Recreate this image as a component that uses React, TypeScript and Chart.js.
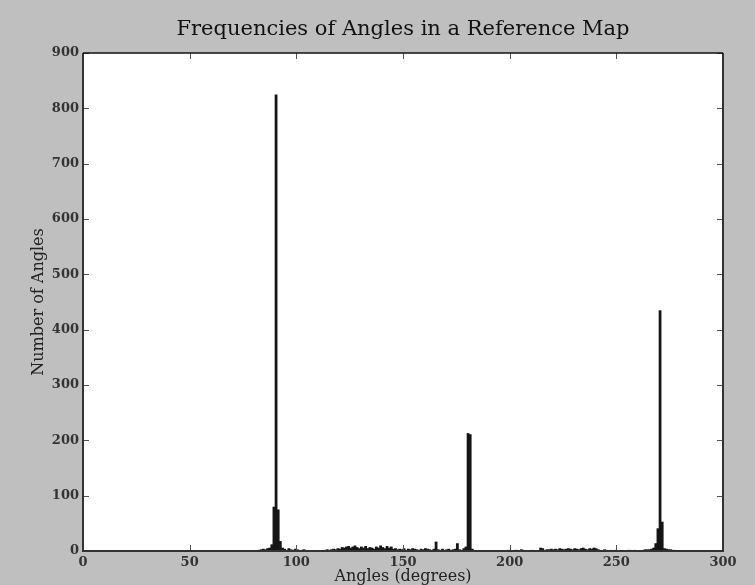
import { useEffect, useRef } from "react";
import { Chart, registerables } from "chart.js";

Chart.register(...registerables);

const TITLE = "Frequencies of Angles in a Reference Map";
const X_LABEL = "Angles (degrees)";
const Y_LABEL = "Number of Angles";

const xTicks = [0, 50, 100, 150, 200, 250, 300];
const yTicks = [0, 100, 200, 300, 400, 500, 600, 700, 800, 900];

const BIN_WIDTH = 1;

// left edge of each non-empty 1-degree bin
const angles = [
  82, 83, 84, 85, 86, 87, 88, 89, 90, 91, 92, 93, 94, 95, 96, 97, 98, 99, 100, 101, 102, 103, 104,
  113, 114, 115, 116, 117, 118, 119, 120, 121, 122, 123, 124, 125, 126, 127, 128, 129, 130,
  131, 132, 133, 134, 135, 136, 137, 138, 139, 140, 141, 142, 143, 144, 145, 146, 147, 148, 149, 150,
  151, 152, 153, 154, 155, 156, 157, 158, 159, 160, 161, 162, 163, 164, 165, 166, 167, 168, 169, 170,
  171, 172, 173, 174, 175, 176, 177, 178, 179, 180, 181, 182,
  199, 202, 203, 205, 206, 208, 210, 214, 215, 216, 217, 218, 219, 220, 221, 222, 223, 224, 225,
  226, 227, 228, 229, 230, 231, 232, 233, 234, 235, 236, 237, 238, 239, 240, 241, 242, 244, 245, 247, 249,
  252, 255, 256, 258, 260, 262, 263, 264, 265, 266, 267, 268, 269, 270, 271, 272, 273, 274, 275, 276, 277, 278,
];

const counts = [
  2, 3, 4, 3, 5, 6, 12, 80, 825, 75, 18, 6, 4, 2, 5, 3, 2, 4, 3, 1, 2, 3, 2,
  2, 3, 2, 3, 4, 3, 5, 4, 7, 6, 8, 9, 6, 8, 10, 7, 5, 8,
  6, 9, 5, 7, 6, 4, 8, 6, 10, 7, 5, 9, 6, 8, 4, 5, 3, 4, 3, 5,
  2, 4, 3, 5, 4, 3, 2, 4, 3, 5, 4, 3, 2, 4, 17, 3, 2, 4, 2, 3,
  4, 2, 3, 4, 14, 3, 2, 5, 8, 213, 211, 4,
  2, 2, 2, 3, 2, 1, 2, 6, 5, 2, 3, 3, 4, 3, 4, 3, 5, 4, 3,
  4, 5, 4, 3, 5, 4, 3, 5, 6, 4, 3, 5, 4, 6, 5, 3, 2, 3, 2, 2, 2,
  1, 2, 2, 2, 1, 2, 3, 3, 3, 4, 6, 14, 41, 435, 53, 5, 4, 3, 3, 2, 2, 1,
];

const SERIF = '"DejaVu Serif", serif';

const framePlugin = {
  id: "frame",
  beforeDraw(chart: any) {
    const { ctx, chartArea: a } = chart;
    ctx.save();
    ctx.fillStyle = "#bfbfbf";
    ctx.fillRect(0, 0, chart.width, chart.height);
    ctx.fillStyle = "#ffffff";
    ctx.fillRect(a.left, a.top, a.right - a.left, a.bottom - a.top);
    ctx.restore();
  },
  afterDraw(chart: any) {
    const { ctx, chartArea: a, scales } = chart;
    const xs = scales.x;
    const ys = scales.y;
    ctx.save();
    // inward ticks
    ctx.strokeStyle = "#555";
    ctx.lineWidth = 1;
    const len = 6;
    ctx.beginPath();
    xTicks.forEach((v) => {
      const px = Math.round(xs.getPixelForValue(v)) + 0.5;
      ctx.moveTo(px, a.bottom);
      ctx.lineTo(px, a.bottom - len);
      ctx.moveTo(px, a.top);
      ctx.lineTo(px, a.top + len);
    });
    yTicks.forEach((v) => {
      const py = Math.round(ys.getPixelForValue(v)) + 0.5;
      ctx.moveTo(a.left, py);
      ctx.lineTo(a.left + len, py);
      ctx.moveTo(a.right, py);
      ctx.lineTo(a.right - len, py);
    });
    ctx.stroke();
    // frame
    ctx.strokeStyle = "#333";
    ctx.lineWidth = 2;
    ctx.beginPath();
    ctx.moveTo(a.left, a.top);
    ctx.lineTo(a.left, a.bottom);
    ctx.lineTo(a.right, a.bottom);
    ctx.lineTo(a.right, a.top);
    ctx.stroke();
    ctx.strokeStyle = "#111";
    ctx.lineWidth = 1.5;
    ctx.beginPath();
    ctx.moveTo(a.left, a.top);
    ctx.lineTo(a.right, a.top);
    ctx.stroke();
    // texts
    ctx.fillStyle = "#111";
    ctx.textAlign = "center";
    ctx.textBaseline = "middle";
    ctx.font = `21px ${SERIF}`;
    ctx.fillText(TITLE, (a.left + a.right) / 2, 30);
    ctx.font = `16px ${SERIF}`;
    ctx.fillStyle = "#222";
    ctx.fillText(X_LABEL, (a.left + a.right) / 2, 577);
    ctx.translate(39, (a.top + a.bottom) / 2);
    ctx.rotate(-Math.PI / 2);
    ctx.fillText(Y_LABEL, 0, 0);
    ctx.restore();
  },
};

export default function App() {
  const ref = useRef<HTMLCanvasElement>(null);
  useEffect(() => {
    const canvas = ref.current;
    if (!canvas) return;
    const data = angles.map((a, i) => ({ x: a + BIN_WIDTH / 2, y: counts[i] }));
    const chart = new Chart(canvas, {
      type: "bar",
      data: {
        datasets: [
          {
            data,
            backgroundColor: "#151515",
            borderWidth: 0,
            barPercentage: 1.3,
            categoryPercentage: 1,
          },
        ],
      },
      options: {
        animation: false,
        responsive: false,
        devicePixelRatio: 1,
        layout: { padding: { top: 53, left: 0, right: 32, bottom: 0 } },
        plugins: { legend: { display: false }, tooltip: { enabled: false }, title: { display: false } },
        scales: {
          x: {
            type: "linear",
            min: 0,
            max: 300,
            offset: false,
            grid: { display: false, drawTicks: false },
            border: { display: false },
            afterFit: (s: any) => {
              s.height = 34;
            },
            afterBuildTicks: (s: any) => {
              s.ticks = xTicks.map((v) => ({ value: v }));
            },
            ticks: {
              padding: 4,
              maxRotation: 0,
              autoSkip: false,
              color: "#333",
              font: { family: SERIF, size: 13, weight: "bold" },
            },
          },
          y: {
            type: "linear",
            min: 0,
            max: 900,
            grid: { display: false, drawTicks: false },
            border: { display: false },
            afterFit: (s: any) => {
              s.width = 83;
            },
            afterBuildTicks: (s: any) => {
              s.ticks = yTicks.map((v) => ({ value: v }));
            },
            ticks: {
              padding: 4,
              autoSkip: false,
              color: "#333",
              font: { family: SERIF, size: 13, weight: "bold" },
            },
          },
        },
      },
      plugins: [framePlugin],
    });
    return () => chart.destroy();
  }, []);
  return (
    <div style={{ position: "fixed", left: 0, top: 0, width: 755, height: 585 }}>
      <canvas ref={ref} width={755} height={585} style={{ display: "block" }} />
    </div>
  );
}
